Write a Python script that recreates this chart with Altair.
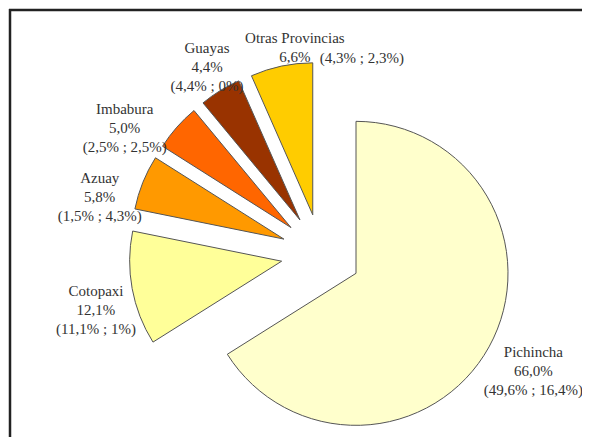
import altair as alt
import pandas as pd

# ---- data ----
provinces = ["Pichincha", "Cotopaxi", "Azuay", "Imbabura", "Guayas", "Otras Provincias"]
share = [66.0, 12.1, 5.8, 5.0, 4.4, 6.6]
share_a = [49.6, 11.1, 1.5, 2.5, 4.4, 4.3]
share_b = [16.4, 1.0, 4.3, 2.5, 0.0, 2.3]
colors = ["#FFFFCC", "#FFFF99", "#FF9900", "#FF6600", "#993300", "#FFCC00"]

# ---- layout (pixels / degrees) ----
CX, CY = 313, 246
EXPLODE = 40
R = 152
label_r = [234, 228, 234, 244, 235, 218]
label_shift = [-4.1, 1.1, -2.9, -4.9, 2.7, 5.0]


def fmt(v, keep=True):
    s = f"{v:.1f}" if (keep or v != int(v)) else f"{int(v)}"
    return s.replace(".", ",") + "%"


labels, parens = [], []
for p, s, a, b in zip(provinces, share, share_a, share_b):
    paren = f"({fmt(a, False)} ; {fmt(b, False)})"
    parens.append(paren)
    if p == "Otras Provincias":
        labels.append(f"{p}\n{fmt(s)}")
    else:
        labels.append(f"{p}\n{fmt(s)}\n{paren}")

df = pd.DataFrame({
    "province": provinces,
    "share": share,
    "order": list(range(len(provinces))),
    "label": labels,
    "paren": parens,
    "lr": label_r,
    "ls": label_shift,
})

base = alt.Chart(df).transform_joinaggregate(
    total="sum(share)"
).transform_window(
    cum="sum(share)", sort=[alt.SortField("order")], frame=[None, 0]
).transform_calculate(
    t0="(datum.cum - datum.share) / datum.total * 2 * PI",
    t1="datum.cum / datum.total * 2 * PI",
).transform_calculate(
    mid="(datum.t0 + datum.t1) / 2",
).transform_calculate(
    px=f"{CX} + {EXPLODE} * sin(datum.mid)",
    py=f"{CY} - {EXPLODE} * cos(datum.mid)",
    la="datum.mid + datum.ls * PI / 180",
).transform_calculate(
    lx=f"{CX} + datum.lr * sin(datum.la)",
    ly=f"{CY} - datum.lr * cos(datum.la)",
)

arcs = base.mark_arc(outerRadius=R, stroke="#555555", strokeWidth=1).encode(
    theta=alt.Theta("t0:Q", scale=None),
    theta2=alt.Theta2("t1:Q"),
    x=alt.X("px:Q", scale=None),
    y=alt.Y("py:Q", scale=None),
    color=alt.Color("province:N", scale=alt.Scale(domain=provinces, range=colors), legend=None),
)

text = base.mark_text(
    lineBreak="\n", font="Liberation Serif", fontSize=15, lineHeight=19,
    color="#333333", baseline="middle", align="center",
).encode(
    x=alt.X("lx:Q", scale=None),
    y=alt.Y("ly:Q", scale=None),
    text="label:N",
)

paren_text = base.transform_filter(
    alt.datum.province == "Otras Provincias"
).mark_text(
    font="Liberation Serif", fontSize=15, color="#333333",
    baseline="middle", align="left", dx=25, dy=20,
).encode(
    x=alt.X("lx:Q", scale=None),
    y=alt.Y("ly:Q", scale=None),
    text="paren:N",
)

frame_df = pd.DataFrame({"k": [0]})
top_line = alt.Chart(frame_df).mark_rule(color="#222222", strokeWidth=2.5).encode(
    x=alt.value(1), x2=alt.value(600), y=alt.value(2)
)
left_line = alt.Chart(frame_df).mark_rule(color="#222222", strokeWidth=2.5).encode(
    x=alt.value(2), y=alt.value(1), y2=alt.value(460)
)

chart = alt.layer(arcs, text, paren_text, top_line, left_line).properties(
    width=574, height=429, padding=0,
    autosize=alt.AutoSizeParams(type="none"),
    background="white",
).configure_view(stroke=None)

chart.save("out.html", embed_options={"renderer": "svg", "actions": False})
